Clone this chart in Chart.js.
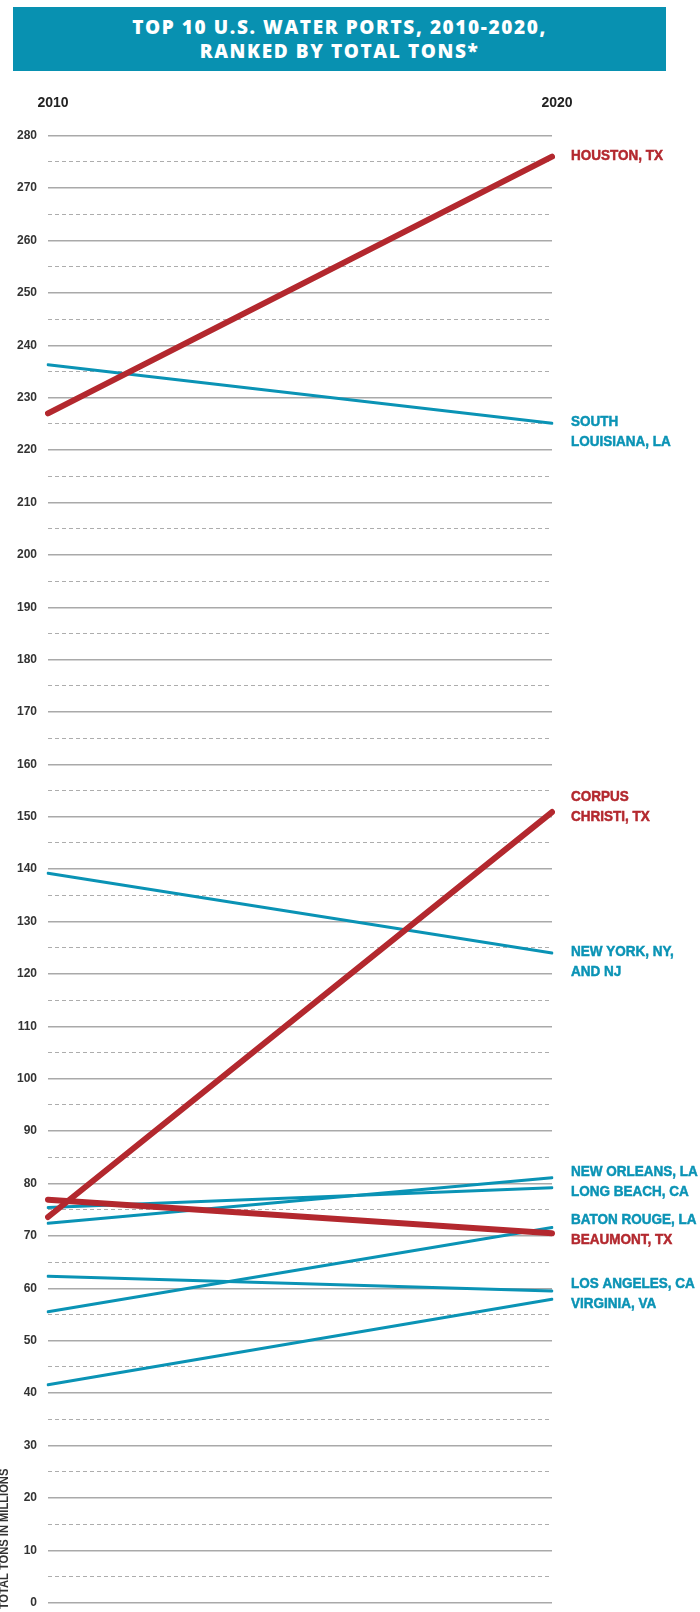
<!DOCTYPE html>
<html>
<head>
<meta charset="utf-8">
<script src="https://cdn.jsdelivr.net/npm/chart.js@4"></script>
<style>
  body { margin: 0; background: #fff; }
  #wrap { position: relative; width: 700px; height: 1612px; }
  #banner {
    position: absolute; left: 13px; top: 7px; width: 653px; height: 64px;
    background: #0891b1; color: #fff; text-align: center;
    font-family: "Open Sans", sans-serif; font-weight: 800; font-size: 19px;
    line-height: 24px; letter-spacing: 1.6px; box-sizing: border-box; padding-top: 8px;
  }
  canvas { position: absolute; left: 0; top: 0; }
</style>
</head>
<body>
<div id="wrap">
  <canvas id="portsChart" width="700" height="1612"></canvas>
  <div id="banner">TOP 10 U.S. WATER PORTS, 2010-2020,<br>RANKED BY TOTAL TONS*</div>
</div>
<script>
const years = ["2010", "2020"];
const ports = [
  "HOUSTON, TX", "SOUTH LOUISIANA, LA", "CORPUS CHRISTI, TX", "NEW YORK, NY, AND NJ",
  "NEW ORLEANS, LA", "LONG BEACH, CA", "BATON ROUGE, LA", "BEAUMONT, TX",
  "LOS ANGELES, CA", "VIRGINIA, VA"
];
const tons2010 = [227.0, 236.3, 73.6, 139.2, 72.4, 75.4, 55.5, 76.9, 62.3, 41.6];
const tons2020 = [276.0, 225.1, 150.9, 124.0, 81.1, 79.2, 71.6, 70.5, 59.5, 57.9];
const labelLines = [
  ["HOUSTON, TX"], ["SOUTH", "LOUISIANA, LA"], ["CORPUS", "CHRISTI, TX"], ["NEW YORK, NY,", "AND NJ"],
  ["NEW ORLEANS, LA"], ["LONG BEACH, CA"], ["BATON ROUGE, LA"], ["BEAUMONT, TX"],
  ["LOS ANGELES, CA"], ["VIRGINIA, VA"]
];

const RED = "#b3282e";
const TEAL = "#0a93b5";
const isTexas = name => name.endsWith(", TX");

const datasets = ports.map((name, i) => ({
  label: name,
  data: [tons2010[i], tons2020[i]],
  borderColor: isTexas(name) ? RED : TEAL,
  borderWidth: isTexas(name) ? 6 : 3,
  borderCapStyle: "round",
  pointRadius: 0,
  tension: 0,
  order: isTexas(name) ? 0 : 1
}));

// draw text squeezed horizontally (no condensed font installed)
function narrowText(ctx, text, x, y, squeeze, heavy) {
  ctx.save();
  ctx.translate(x, y);
  ctx.scale(squeeze, 1);
  if (heavy) {
    ctx.strokeStyle = ctx.fillStyle;
    ctx.lineWidth = heavy;
    ctx.strokeText(text, 0, 0);
  }
  ctx.fillText(text, 0, 0);
  ctx.restore();
}

// labels at the right end + year headers + axis title
const annotate = {
  id: "annotate",
  afterDatasetsDraw(chart) {
    const ctx = chart.ctx;
    const x = chart.scales.x;
    const y = chart.scales.y;
    const area = chart.chartArea;
    const lh = 20;

    ctx.save();
    ctx.fillStyle = "#222";
    ctx.font = "bold 14px 'Liberation Sans', Arial, sans-serif";
    ctx.textAlign = "center";
    ctx.textBaseline = "middle";
    years.forEach((yr, i) => ctx.fillText(yr, x.getPixelForValue(i) + 5, 103));

    // label blocks, pushed apart when they collide
    const blocks = ports.map((name, i) => {
      let top = y.getPixelForValue(tons2020[i]) - 1;
      if (labelLines[i].length > 1 && tons2020[i] > tons2010[i]) top -= (labelLines[i].length - 1) * lh * 0.7;
      return { i, top, h: labelLines[i].length * lh };
    }).sort((a, b) => a.top - b.top);
    for (let k = 0; k < 20; k++) {
      for (let j = 1; j < blocks.length; j++) {
        const a = blocks[j - 1], b = blocks[j];
        const over = a.top + a.h - b.top;
        if (over > 0) { a.top -= over / 2; b.top += over / 2; }
      }
    }
    ctx.font = "bold 15px 'Liberation Sans', Arial, sans-serif";
    ctx.textAlign = "left";
    blocks.forEach(b => {
      ctx.fillStyle = isTexas(ports[b.i]) ? RED : TEAL;
      labelLines[b.i].forEach((t, n) => narrowText(ctx, t, area.right + 19, b.top + n * lh, 0.9, 0.5));
    });

    ctx.fillStyle = "#333";
    ctx.font = "bold 12px 'Liberation Sans', Arial, sans-serif";
    ctx.translate(5, 1539);
    ctx.rotate(-Math.PI / 2);
    ctx.textAlign = "center";
    narrowText(ctx, "TOTAL TONS IN MILLIONS", 0, 0, 0.93, 0);
    ctx.restore();
  }
};

new Chart(document.getElementById("portsChart"), {
  type: "line",
  data: { labels: years, datasets: datasets },
  plugins: [annotate],
  options: {
    responsive: false,
    animation: false,
    layout: { padding: { left: 0, right: 148, top: 135.7, bottom: 9.4 } },
    plugins: { legend: { display: false }, tooltip: { enabled: false } },
    scales: {
      x: { display: false, offset: false },
      y: {
        min: 0, max: 280,
        border: { display: false },
        grid: { color: "#a9a9a9", lineWidth: 1.4, drawTicks: false },
        ticks: {
          stepSize: 10, padding: 11, color: "#333",
          font: { family: "'Liberation Sans', Arial, sans-serif", weight: "bold", size: 12 }
        },
        afterFit: s => { s.width = 48; s.paddingTop = 0; s.paddingBottom = 0; }
      },
      y5: {
        position: "left",
        min: 0, max: 280,
        border: { display: false, dash: [4, 3] },
        grid: {
          drawTicks: false, lineWidth: 1,
          color: c => (c.tick && c.tick.value % 10 === 5) ? "#adadad" : "rgba(0,0,0,0)"
        },
        ticks: { stepSize: 5, display: false },
        afterFit: s => { s.width = 0; s.paddingTop = 0; s.paddingBottom = 0; }
      }
    }
  }
});
</script>
</body>
</html>
